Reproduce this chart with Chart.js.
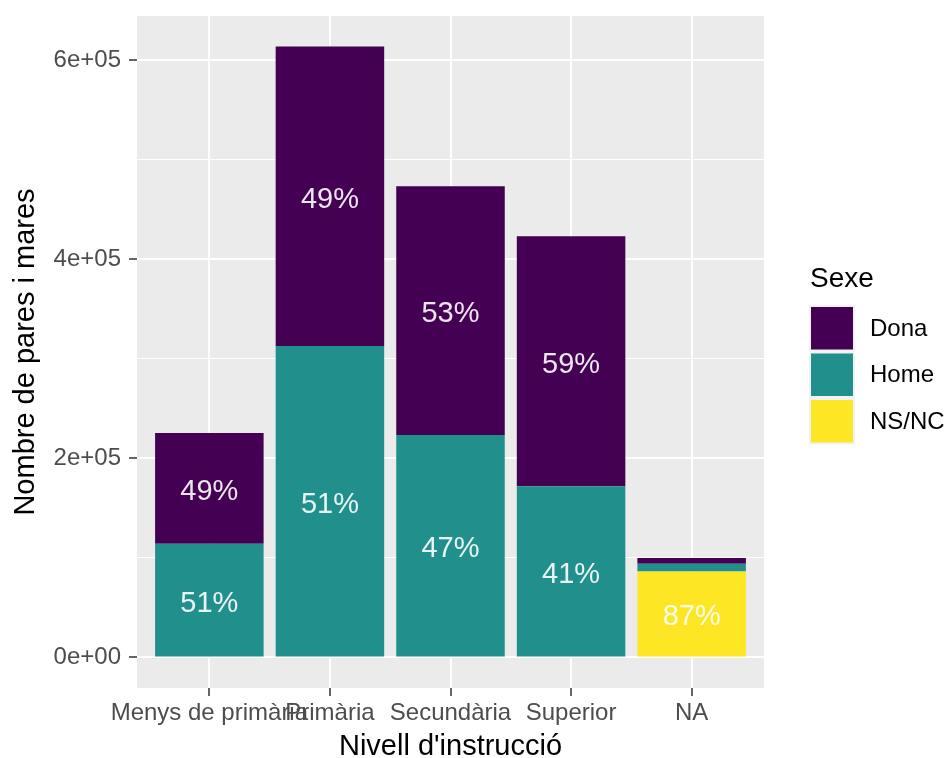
<!DOCTYPE html>
<html>
<head>
<meta charset="utf-8">
<script src="https://cdn.jsdelivr.net/npm/chart.js@4/dist/chart.umd.min.js"></script>
<style>
  body { margin: 0; background: #fff; }
  #wrap { width: 944px; height: 758px; }
</style>
</head>
<body>
<div id="wrap"><canvas id="myChart" width="944" height="758"></canvas></div>
<script>
// data
const categories = ['Menys de primària', 'Primària', 'Secundària', 'Superior', 'NA'];
const dona = [111300, 301000, 249900, 251400, 5800];
const home = [114400, 313000, 223700, 172000, 7700];
const nsnc = [0, 0, 0, 0, 86500];
const donaLabels = ['49%', '49%', '53%', '59%', ''];
const homeLabels = ['51%', '51%', '47%', '41%', ''];
const nsncLabels = ['', '', '', '', '87%'];
const yTicks = [0, 100000, 200000, 300000, 400000, 500000, 600000];

const FONT = '"Liberation Sans", Arial, sans-serif';

// ggplot-like 5% expansion on the y range
const totals = categories.map((c, i) => dona[i] + home[i] + nsnc[i]);
const yTop = Math.max(...totals);
const yPad = yTop * 0.05;

function sci(v) {
    if (v === 0) return '0e+00';
    const parts = v.toExponential().split('e');
    const sign = parts[1][0];
    let exp = parts[1].slice(1);
    if (exp.length < 2) exp = '0' + exp;
    return parts[0] + 'e' + sign + exp;
}

function isMajor(v) {
    return v % 200000 === 0;
}

function points(arr) {
    return arr.map((v, i) => ({ x: i + 1, y: v }));
}

const panelBg = {
    id: 'panelBg',
    beforeDraw(chart) {
        const { ctx, chartArea: a } = chart;
        ctx.save();
        ctx.fillStyle = '#ffffff';
        ctx.fillRect(0, 0, chart.width, chart.height);
        ctx.fillStyle = '#EBEBEB';
        ctx.fillRect(a.left, a.top, a.right - a.left, a.bottom - a.top);
        ctx.restore();
    }
};

const barLabels = {
    id: 'barLabels',
    afterDatasetsDraw(chart) {
        const ctx = chart.ctx;
        ctx.save();
        ctx.font = '29px ' + FONT;
        ctx.fillStyle = 'rgba(255,255,255,0.9)';
        ctx.textAlign = 'center';
        ctx.textBaseline = 'middle';
        chart.data.datasets.forEach((ds, di) => {
            const meta = chart.getDatasetMeta(di);
            meta.data.forEach((bar, i) => {
                const txt = ds.pctLabels[i];
                if (!txt) return;
                ctx.fillText(txt, bar.x, (bar.y + bar.base) / 2 + 3.5);
            });
        });
        ctx.restore();
    }
};

const titlesAndLegend = {
    id: 'titlesAndLegend',
    afterDraw(chart) {
        const ctx = chart.ctx;
        const a = chart.chartArea;
        ctx.save();
        ctx.fillStyle = '#000000';
        ctx.font = '29px ' + FONT;
        ctx.textAlign = 'center';
        ctx.textBaseline = 'alphabetic';
        ctx.fillText("Nivell d'instrucció", (a.left + a.right) / 2, 755);

        ctx.save();
        ctx.translate(34, (a.top + a.bottom) / 2);
        ctx.rotate(-Math.PI / 2);
        ctx.fillText('Nombre de pares i mares', 0, 0);
        ctx.restore();

        // legend
        ctx.textAlign = 'left';
        ctx.font = '28px ' + FONT;
        ctx.fillText('Sexe', 810, 287);
        const keys = [
            ['Dona', '#440154'],
            ['Home', '#21908C'],
            ['NS/NC', '#FDE725']
        ];
        ctx.font = '24px ' + FONT;
        keys.forEach((k, i) => {
            const y = 305 + i * 46.5;
            ctx.fillStyle = '#F2F2F2';
            ctx.fillRect(809, y, 46, 46.5);
            ctx.fillStyle = k[1];
            ctx.fillRect(811, y + 2, 42, 42.5);
            ctx.fillStyle = '#000000';
            ctx.textBaseline = 'middle';
            ctx.fillText(k[0], 870, y + 24);
        });
        ctx.restore();
    }
};

new Chart(document.getElementById('myChart'), {
    type: 'bar',
    data: {
        datasets: [
            { label: 'NS/NC', data: points(nsnc), backgroundColor: '#FDE725', pctLabels: nsncLabels },
            { label: 'Home', data: points(home), backgroundColor: '#21908C', pctLabels: homeLabels },
            { label: 'Dona', data: points(dona), backgroundColor: '#440154', pctLabels: donaLabels }
        ]
    },
    options: {
        responsive: false,
        animation: false,
        devicePixelRatio: 1,
        borderWidth: 0,
        barPercentage: 0.9,
        categoryPercentage: 1.0,
        layout: { padding: { left: 0, top: 16, right: 180, bottom: 0 } },
        plugins: {
            legend: { display: false },
            tooltip: { enabled: false }
        },
        scales: {
            x: {
                type: 'linear',
                stacked: true,
                offset: false,
                min: 0.4,
                max: categories.length + 0.6,
                afterBuildTicks(scale) {
                    scale.ticks = categories.map((c, i) => ({ value: i + 1 }));
                },
                afterFit(scale) {
                    scale.height = 70;
                    scale.paddingLeft = 0;
                    scale.paddingRight = 0;
                },
                border: { display: false },
                grid: {
                    offset: false,
                    color: '#ffffff',
                    lineWidth: 2,
                    tickColor: '#333333',
                    tickLength: 8,
                    tickWidth: 1.5
                },
                ticks: {
                    autoSkip: false,
                    maxRotation: 0,
                    padding: 3,
                    color: '#4D4D4D',
                    font: { family: FONT, size: 24 },
                    callback: (v) => categories[v - 1] || ''
                }
            },
            y: {
                stacked: true,
                min: -yPad,
                max: yTop + yPad,
                afterBuildTicks(scale) {
                    scale.ticks = yTicks.map(v => ({ value: v }));
                },
                afterFit(scale) {
                    scale.width = 137;
                    scale.paddingTop = 0;
                    scale.paddingBottom = 0;
                },
                border: { display: false },
                grid: {
                    color: '#ffffff',
                    lineWidth: (c) => (c.tick && isMajor(c.tick.value)) ? 2 : 1,
                    tickColor: (c) => (c.tick && isMajor(c.tick.value)) ? '#333333' : 'rgba(0,0,0,0)',
                    tickLength: 8,
                    tickWidth: 1.5
                },
                ticks: {
                    autoSkip: false,
                    padding: 8,
                    color: '#4D4D4D',
                    font: { family: FONT, size: 24 },
                    callback: (v) => isMajor(v) ? sci(v) : ''
                }
            }
        }
    },
    plugins: [panelBg, barLabels, titlesAndLegend]
});
</script>
</body>
</html>
